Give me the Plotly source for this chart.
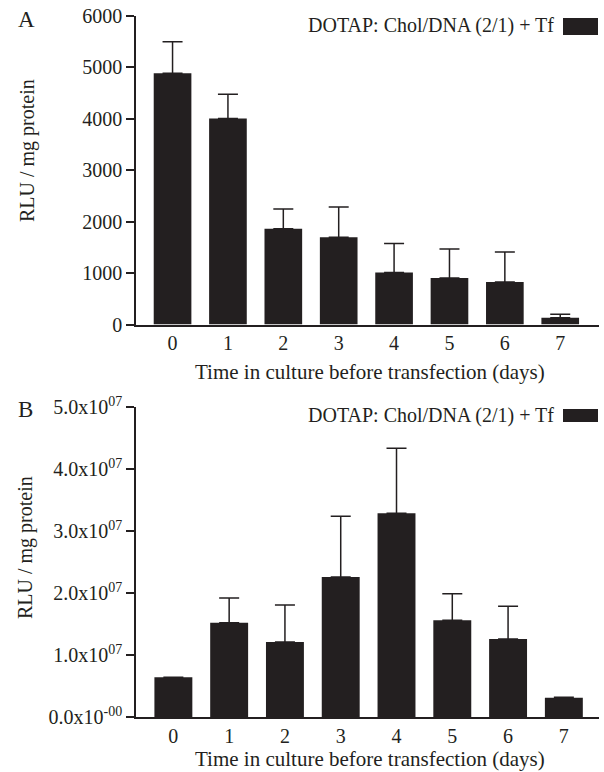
import plotly.graph_objects as go

# ---- data ----
days = [0, 1, 2, 3, 4, 5, 6, 7]
day_labels = ["0", "1", "2", "3", "4", "5", "6", "7"]

# Panel A
a_mean = [4885, 4005, 1860, 1695, 1010, 905, 825, 130]
a_sd = [615, 475, 385, 590, 565, 565, 585, 70]

# Panel B
b_mean = [6.4e6, 1.52e7, 1.21e7, 2.26e7, 3.29e7, 1.56e7, 1.26e7, 3.1e6]
b_sd = [0, 4.0e6, 6.0e6, 9.8e6, 1.05e7, 4.3e6, 5.3e6, 1.0e5]

a_ticks = [0, 1000, 2000, 3000, 4000, 5000, 6000]
a_ticktext = ["0", "1000", "2000", "3000", "4000", "5000", "6000"]
b_ticks = [0, 1e7, 2e7, 3e7, 4e7, 5e7]
b_ticktext = ["0.0x10<sup>-00</sup>", "1.0x10<sup>07</sup>", "2.0x10<sup>07</sup>",
              "3.0x10<sup>07</sup>", "4.0x10<sup>07</sup>", "5.0x10<sup>07</sup>"]

legend_label = "DOTAP: Chol/DNA (2/1) + Tf"
x_title = "Time in culture before transfection (days)"
y_title = "RLU / mg protein"

# ---- style ----
INK = "#231f20"
FONT = "Liberation Serif, Times New Roman, serif"
W, H = 604, 772


def px_x(p):
    return p / W


def px_y(p):
    return 1 - p / H


fig = go.Figure()

fig.add_trace(go.Bar(
    x=days, y=a_mean, marker=dict(color=INK, line=dict(width=0)),
    error_y=dict(type="data", symmetric=False, array=a_sd, arrayminus=[0] * len(a_sd),
                 color=INK, thickness=1.5, width=10),
    xaxis="x", yaxis="y", showlegend=False,
))
fig.add_trace(go.Bar(
    x=days, y=b_mean, marker=dict(color=INK, line=dict(width=0)),
    error_y=dict(type="data", symmetric=False, array=b_sd, arrayminus=[0] * len(b_sd),
                 color=INK, thickness=1.5, width=10),
    xaxis="x2", yaxis="y2", showlegend=False,
))

xdom = [px_x(136), px_x(599)]
common_x = dict(
    tickmode="array", tickvals=days, ticktext=day_labels, ticks="",
    showline=True, linecolor=INK, linewidth=1.5, showgrid=False, zeroline=False,
    tickfont=dict(family=FONT, size=20, color=INK), automargin=False,
    ticklabeloverflow="allow", domain=xdom,
)
common_y = dict(
    ticks="outside", ticklen=8, tickwidth=1.5, tickcolor=INK,
    showline=True, linecolor=INK, linewidth=1.5, showgrid=False, zeroline=False,
    tickfont=dict(family=FONT, size=20, color=INK), automargin=False,
    ticklabeloverflow="allow",
)

fig.update_layout(
    width=W, height=H,
    margin=dict(l=0, r=0, t=0, b=0),
    paper_bgcolor="white", plot_bgcolor="white",
    bargap=0.32,
    font=dict(family=FONT, size=20, color=INK),
    xaxis=dict(common_x, range=[-0.66, 7.70], anchor="y"),
    yaxis=dict(common_y, range=[0, 6000], tickvals=a_ticks, ticktext=a_ticktext,
               domain=[px_y(324.5), px_y(16)], anchor="x"),
    xaxis2=dict(common_x, range=[-0.67, 7.63], anchor="y2"),
    yaxis2=dict(common_y, range=[0, 5e7], tickvals=b_ticks, ticktext=b_ticktext,
                domain=[px_y(717), px_y(407.3)], anchor="x2"),
)

annotations = [
    dict(text="A", x=px_x(26), y=px_y(20), font=dict(size=23)),
    dict(text="B", x=px_x(25), y=px_y(409), font=dict(size=23)),
    dict(text=y_title, x=px_x(27), y=px_y(151), textangle=-90),
    dict(text=y_title, x=px_x(25), y=px_y(548), textangle=-90),
    dict(text=x_title, x=px_x(370), y=px_y(372), font=dict(size=21)),
    dict(text=x_title, x=px_x(370), y=px_y(759), font=dict(size=21)),
    dict(text=legend_label, x=px_x(556), y=px_y(25), xanchor="right"),
    dict(text=legend_label, x=px_x(556), y=px_y(415), xanchor="right"),
]
for a in annotations:
    a.setdefault("xanchor", "center")
    a.update(xref="paper", yref="paper", yanchor="middle", showarrow=False)
    a.setdefault("font", dict(size=20))
    a["font"] = dict(family=FONT, color=INK, **a["font"])
fig.update_layout(annotations=annotations)

fig.update_layout(shapes=[
    dict(type="rect", xref="paper", yref="paper", x0=px_x(563), x1=px_x(598),
         y0=px_y(35), y1=px_y(18), fillcolor=INK, line=dict(width=0)),
    dict(type="rect", xref="paper", yref="paper", x0=px_x(563), x1=px_x(598),
         y0=px_y(422), y1=px_y(409), fillcolor=INK, line=dict(width=0)),
])

fig.write_html("out.html", config={"displayModeBar": False},
               post_script="document.body.style.margin='0';")
